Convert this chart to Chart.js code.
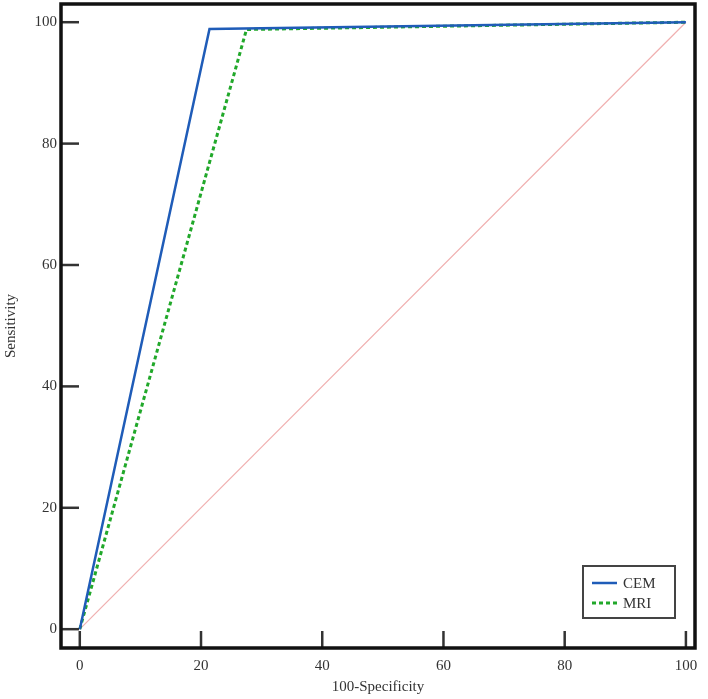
<!DOCTYPE html>
<html>
<head>
<meta charset="utf-8">
<script src="https://cdn.jsdelivr.net/npm/chart.js@4/dist/chart.umd.min.js"></script>
<style>
  html, body { margin: 0; padding: 0; background: #fff; }
  #wrap { width: 708px; height: 699px; }
</style>
</head>
<body>
<div id="wrap"><canvas id="roc" width="708" height="699"></canvas></div>
<script>
// ROC curve points (100-Specificity, Sensitivity)
const cemX = [0, 21.4, 100];
const cemY = [0, 98.9, 100];
const mriX = [0, 27.5, 100];
const mriY = [0, 98.8, 100];
const refX = [0, 100];
const refY = [0, 100];

const xTicks = [0, 20, 40, 60, 80, 100];
const yTicks = [0, 20, 40, 60, 80, 100];
const seriesNames = ["CEM", "MRI"];

const fontFam = "'Liberation Serif', 'Times New Roman', serif";

function toPoints(xs, ys) {
    return xs.map((x, i) => ({ x: x, y: ys[i] }));
}

// box round the plot + short ticks pointing inward
const frameAndTicks = {
    id: 'frameAndTicks',
    afterDraw(chart) {
        const ctx = chart.ctx;
        const a = chart.chartArea;
        const xs = chart.scales.x, ys = chart.scales.y;
        ctx.save();
        ctx.strokeStyle = '#333';
        ctx.lineWidth = 2.5;
        xTicks.forEach(v => {
            const px = xs.getPixelForValue(v);
            ctx.beginPath();
            ctx.moveTo(px, a.bottom);
            ctx.lineTo(px, a.bottom - 17);
            ctx.stroke();
        });
        yTicks.forEach(v => {
            const py = ys.getPixelForValue(v);
            ctx.beginPath();
            ctx.moveTo(a.left, py);
            ctx.lineTo(a.left + 18, py);
            ctx.stroke();
        });
        ctx.strokeStyle = '#111';
        ctx.lineWidth = 3.5;
        ctx.strokeRect(a.left, a.top, a.right - a.left, a.bottom - a.top);
        ctx.restore();
    }
};

// legend box in lower right corner
const boxLegend = {
    id: 'boxLegend',
    afterDraw(chart) {
        const ctx = chart.ctx;
        const a = chart.chartArea;
        const bx = a.right - 112, by = a.bottom - 82, bw = 92, bh = 52;
        ctx.save();
        ctx.fillStyle = '#fff';
        ctx.fillRect(bx, by, bw, bh);
        ctx.strokeStyle = '#444';
        ctx.lineWidth = 2;
        ctx.strokeRect(bx, by, bw, bh);
        ctx.font = '15px ' + fontFam;
        ctx.textBaseline = 'middle';
        seriesNames.forEach((name, i) => {
            const ds = chart.data.datasets[i];
            const yy = by + 17 + i * 20;
            ctx.strokeStyle = ds.borderColor;
            ctx.lineWidth = ds.borderWidth;
            ctx.setLineDash(ds.borderDash || []);
            ctx.beginPath();
            ctx.moveTo(bx + 9, yy);
            ctx.lineTo(bx + 34, yy);
            ctx.stroke();
            ctx.setLineDash([]);
            ctx.fillStyle = '#333';
            ctx.fillText(name, bx + 40, yy + 1);
        });
        ctx.restore();
    }
};

new Chart(document.getElementById('roc'), {
    type: 'line',
    data: {
        datasets: [
            {
                label: seriesNames[0],
                data: toPoints(cemX, cemY),
                borderColor: '#1f5cb8',
                borderWidth: 2.5,
                pointRadius: 0,
                tension: 0,
                fill: false
            },
            {
                label: seriesNames[1],
                data: toPoints(mriX, mriY),
                borderColor: '#21a82a',
                borderWidth: 3,
                borderDash: [4, 3],
                pointRadius: 0,
                tension: 0,
                fill: false
            },
            {
                label: 'ref',
                data: toPoints(refX, refY),
                borderColor: '#f0b0b0',
                borderWidth: 1.2,
                pointRadius: 0,
                tension: 0,
                fill: false,
                order: 5
            }
        ]
    },
    options: {
        responsive: false,
        animation: false,
        devicePixelRatio: 1,
        layout: { padding: { top: 4, right: 13, left: 0, bottom: 0 } },
        plugins: {
            legend: { display: false },
            tooltip: { enabled: false }
        },
        scales: {
            x: {
                type: 'linear',
                min: -3.1,
                max: 101.5,
                afterBuildTicks: s => { s.ticks = xTicks.map(v => ({ value: v })); },
                afterFit: s => { s.height = 51; s.paddingLeft = 0; s.paddingRight = 0; },
                grid: { drawOnChartArea: false, drawTicks: false },
                border: { display: false },
                ticks: { color: '#333', padding: 9, font: { family: fontFam, size: 15 } },
                title: {
                    display: true,
                    text: '100-Specificity',
                    color: '#333',
                    padding: { top: 0, bottom: 3 },
                    font: { family: fontFam, size: 15 }
                }
            },
            y: {
                type: 'linear',
                min: -3.1,
                max: 103,
                afterBuildTicks: s => { s.ticks = yTicks.map(v => ({ value: v })); },
                afterFit: s => { s.width = 61; s.paddingTop = 0; s.paddingBottom = 0; },
                grid: { drawOnChartArea: false, drawTicks: false },
                border: { display: false },
                ticks: { color: '#333', padding: 4, font: { family: fontFam, size: 15 } },
                title: {
                    display: true,
                    text: 'Sensitivity',
                    color: '#333',
                    padding: { top: 2, bottom: 0 },
                    font: { family: fontFam, size: 15 }
                }
            }
        }
    },
    plugins: [frameAndTicks, boxLegend]
});
</script>
</body>
</html>
